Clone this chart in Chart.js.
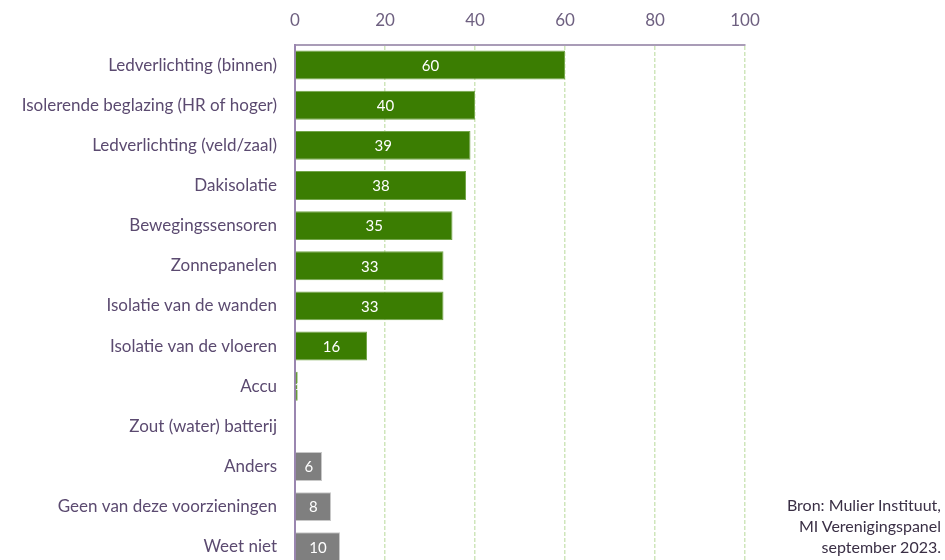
<!DOCTYPE html>
<html lang="nl">
<head>
  <meta charset="UTF-8">
  <title>Voorzieningen</title>
  <script src="https://cdn.jsdelivr.net/npm/chart.js"></script>
  <style>
    html,body{margin:0;padding:0;background:#fff;overflow:hidden;width:945px;height:560px;}
    .wrap{position:relative;width:945px;height:600px;}
    .source{position:absolute;right:4px;top:494px;text-align:right;font-family:'Lato',sans-serif;font-size:16px;line-height:21px;color:#3a2f45;}
  </style>
</head>
<body>
  <div class="wrap">
    <canvas id="chart" width="945" height="587"></canvas>
    <div class="source">Bron: Mulier Instituut,<br>MI Verenigingspanel<br>september 2023.</div>
  </div>
  <script>
    const categories = [
      'Ledverlichting (binnen)',
      'Isolerende beglazing (HR of hoger)',
      'Ledverlichting (veld/zaal)',
      'Dakisolatie',
      'Bewegingssensoren',
      'Zonnepanelen',
      'Isolatie van de wanden',
      'Isolatie van de vloeren',
      'Accu',
      'Zout (water) batterij',
      'Anders',
      'Geen van deze voorzieningen',
      'Weet niet'
    ];
    const values = [60, 40, 39, 38, 35, 33, 33, 16, 0.6, 0, 6, 8, 10];
    const valueLabels = ['60', '40', '39', '38', '35', '33', '33', '16', '1', '', '6', '8', '10'];
    const xTicks = [0, 20, 40, 60, 80, 100];

    const green = '#3b7d02';
    const grey = '#7f7f7f';
    const barColors = values.map((v, i) => i >= 10 ? grey : green);
    const borderColors = values.map((v, i) => i >= 10 ? '#c8c8c8' : '#74a64a');

    const valueLabelPlugin = {
      id: 'valueLabels',
      afterDatasetsDraw(chart) {
        const ctx = chart.ctx;
        const meta = chart.getDatasetMeta(0);
        ctx.save();
        ctx.fillStyle = '#ffffff';
        ctx.textAlign = 'center';
        ctx.textBaseline = 'middle';
        meta.data.forEach((bar, i) => {
          const txt = valueLabels[i];
          if (!txt) return;
          const x = (bar.x + bar.base) / 2;
          ctx.font = (values[i] < 2 ? '10px' : '15px') + " 'Lato', sans-serif";
          ctx.fillText(txt, x + (values[i] < 2 ? 1 : 0), bar.y + 1);
        });
        ctx.restore();
      }
    };

    new Chart(document.getElementById('chart').getContext('2d'), {
      type: 'bar',
      data: {
        labels: categories,
        datasets: [{
          data: values,
          backgroundColor: barColors,
          borderColor: borderColors,
          borderWidth: 1,
          barPercentage: 0.72,
          categoryPercentage: 1
        }]
      },
      options: {
        indexAxis: 'y',
        responsive: false,
        animation: false,
        layout: {padding: {top: 0, right: 200, bottom: 7, left: 0}},
        plugins: {legend: {display: false}, tooltip: {enabled: false}},
        scales: {
          x: {
            position: 'top',
            min: 0,
            max: 100,
            afterBuildTicks(axis) { axis.ticks = xTicks.map(v => ({value: v})); },
            afterFit(axis) { axis.height = 45; },
            grid: {
              color: ctx => ctx.tick && ctx.tick.value === 0 ? 'rgba(0,0,0,0)' : '#cfe6bb',
              lineWidth: 1.5,
              drawTicks: false
            },
            border: {display: true, color: '#a99cb7', width: 2, dash: [4, 2]},
            ticks: {
              padding: 14,
              color: '#6e6080',
              font: {family: "'Lato', sans-serif", size: 17}
            }
          },
          y: {
            afterFit(axis) { axis.width = 295; },
            border: {display: true, color: '#9a86b0', width: 2},
            grid: {display: false},
            ticks: {
              padding: 10,
              color: '#5b4a70',
              font: {family: "'Lato', sans-serif", size: 17}
            }
          }
        }
      },
      plugins: [valueLabelPlugin]
    });
  </script>
</body>
</html>
